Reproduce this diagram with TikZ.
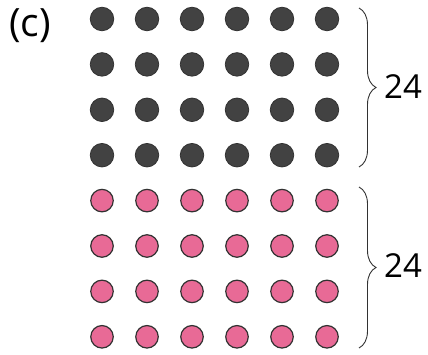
\documentclass[tikz,border=0pt]{standalone}
\usepackage{fontspec}
\setmainfont{Open Sans}
\usepackage{tikz}
\usetikzlibrary{decorations.pathreplacing,calc}
\definecolor{gris}{RGB}{66,66,66}
\definecolor{rosa}{RGB}{232,106,150}
\definecolor{borde}{RGB}{50,50,50}
\tikzset{
  negro/.style={circle, draw=borde, fill=gris, line width=0.8pt,
                minimum size=23.5pt, inner sep=0pt},
  rosado/.style={circle, draw=borde, fill=rosa, line width=1.2pt,
                 minimum size=22.5pt, inner sep=0pt},
  llave/.style={decorate, decoration={brace, amplitude=17pt, aspect=0.5},
                line width=0.9pt, draw=borde},
  num/.style={font=\fontsize{33}{33}\selectfont, anchor=west, inner sep=0pt}
}
\begin{document}
\begin{tikzpicture}[x=1pt, y=-1pt]
  \useasboundingbox (0,0) rectangle (428,355);
  \node[font=\fontsize{39}{39}\selectfont, inner sep=0pt] (etiq) at (30,26) {(c)};
  % puntos negros y rosados
  \foreach \i in {0,...,5}{
    \foreach \j in {0,...,3}{
      \node[negro] (n-\i-\j) at (102+45*\i, 19+45.4*\j) {};
      \node[rosado] (r-\i-\j) at (102+45*\i, 200.6+45.4*\j) {};
    }
  }
  \coordinate (a1) at (359,8);
  \coordinate (a2) at (359,167);
  \coordinate (b1) at (359,187);
  \coordinate (b2) at (359,348);
  \draw[llave] (a1) -- (a2);
  \draw[llave] (b1) -- (b2);
  \node[num] (t1) at (384,87) {24};
  \node[num] (t2) at (384,266) {24};
\end{tikzpicture}
\end{document}
